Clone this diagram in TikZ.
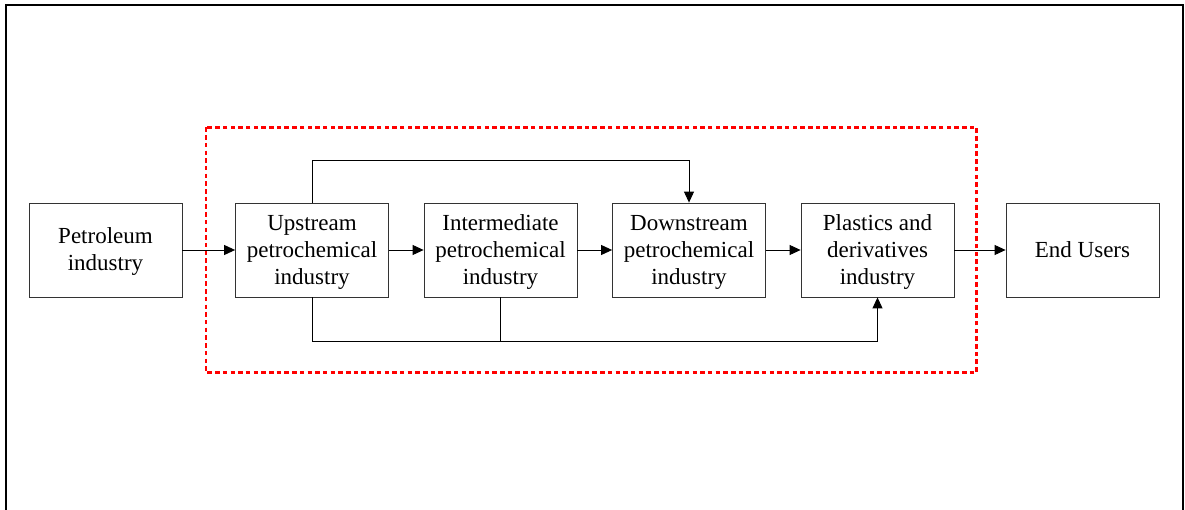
\documentclass[tikz,border=0pt]{standalone}
\usepackage{fontspec}
\setmainfont{Liberation Serif}
\usetikzlibrary{arrows.meta}
\newcommand\ts{\rule{0pt}{20.5pt}}
\newcommand\bs{\rule[-5.5pt]{0pt}{5.5pt}}
\begin{document}
\begin{tikzpicture}[x=1pt,y=-1pt,
  box/.style={draw=black!80,line width=0.8pt,minimum width=153pt,minimum height=94pt,
    inner sep=0pt,align=center,font=\fontsize{23pt}{27pt}\selectfont},
  conn/.style={line width=0.9pt},
  arr/.style={conn,-{Triangle[length=11pt,width=10pt]}},
  frame/.style={line width=2pt},
  group/.style={draw=red,line width=2.4pt,dash pattern=on 4.5pt off 3.2pt}]
\useasboundingbox (0,0) rectangle (1185,510);
\fill[white] (0,0) rectangle (1185,510);
\draw[frame] (6,520) -- (6,5.5) -- (1183,5.5) -- (1183,520);
\draw[group] (206,127.5) rectangle (976.5,372.5);
\node[box] (pet) at (105.5,250) {\ts Petroleum\\industry\bs};
\node[box] (up) at (312,250) {\ts Upstream\\petrochemical\\industry\bs};
\node[box] (mid) at (500.5,250) {\ts Intermediate\\petrochemical\\industry\bs};
\node[box] (down) at (689,250) {\ts Downstream\\petrochemical\\industry\bs};
\node[box] (plast) at (877.5,250) {\ts Plastics and\\derivatives\\industry\bs};
\node[box] (end) at (1082.5,250) {\ts End Users\bs};
\draw[arr] (pet) -- (up);
\draw[arr] (up) -- (mid);
\draw[arr] (mid) -- (down);
\draw[arr] (down) -- (plast);
\draw[arr] (plast) -- (end);
\coordinate (t) at (312,160.5);
\draw[arr] (up.north) -- (t) -| (down.north);
\coordinate (b) at (312,341);
\coordinate (bm) at (500.5,341);
\draw[arr] (up.south) -- (b) -| (plast.south);
\draw[conn] (mid.south) -- (bm);
\end{tikzpicture}
\end{document}
